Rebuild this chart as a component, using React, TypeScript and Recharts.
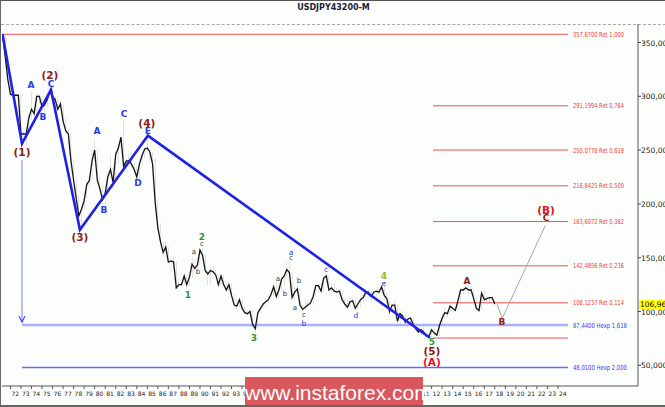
import React from "react";
import {
  ComposedChart,
  XAxis,
  YAxis,
  Bar,
  Line,
  Scatter,
  ReferenceLine,
  ReferenceDot,
} from "recharts";

// quarterly USDJPY bars, first one is 1971 Q2, one row per year
const FIRST_QUARTER = 1971.25;

const highs = [
  357.67, 357.5, 337,
  316, 304, 302, 302,
  302, 267, 266, 284,
  304, 290, 303, 302,
  301, 295, 300, 306,
  306, 300, 299, 296,
  293, 280, 270, 266,
  242, 225, 210, 198,
  205, 220, 225, 251,
  260, 251, 225, 218,
  212, 228, 246, 234,
  248, 255, 264, 278,
  242, 246, 248, 238,
  235, 238, 247, 252,
  263, 252, 248, 242,
  203, 182, 165, 165,
  160, 150, 151, 146,
  131, 128, 136, 134,
  133, 151, 149, 147,
  158, 160, 153, 139,
  142, 142, 139, 134,
  134, 134, 128, 126,
  126, 116, 111, 112,
  112, 105, 101, 101,
  101, 89, 100, 104,
  108, 111, 111, 116,
  124, 127, 123, 131,
  133, 147, 147, 136,
  124, 124, 121, 107,
  112, 110, 110, 115,
  126, 126, 126, 132,
  135, 134, 126, 126,
  122, 121, 121, 112,
  112, 114, 112, 112,
  108, 112, 115, 121,
  119, 119, 119, 119,
  122, 124, 124, 118,
  112, 108, 111, 106,
  100, 101, 98, 93,
  94, 95, 89, 85,
  86, 86, 81, 80,
  84, 83, 80, 87,
  97, 104, 101, 105,
  105, 104, 110, 122,
  122, 125.8, 125, 124,
  122, 113, 104, 119,
  119, 115, 115, 115,
  113.4,
];

const lows = [
  357.2, 336, 314,
  300, 300, 300, 299,
  256, 262, 254, 264,
  278, 275, 282, 293,
  283, 285, 290, 298,
  298, 296, 286, 288,
  275, 265, 262, 238,
  220, 201, 185, 176,
  195, 205, 215, 222,
  240, 220, 212, 203,
  199, 208, 228, 214,
  220, 237, 250, 233,
  230, 236, 235, 230,
  222, 222, 236, 243,
  249, 240, 236, 200,
  175, 163, 152, 154,
  145, 137, 140, 121,
  121, 123, 125, 121,
  124, 131, 137, 139,
  143, 150, 138, 124,
  125, 135, 133, 125,
  124, 124, 118, 119,
  114, 105, 100, 104,
  101, 98, 96, 96,
  86, 80, 84, 98,
  103, 104, 107, 110,
  115, 111, 112, 120,
  124, 131, 133, 111,
  110, 117, 104, 101,
  102, 104, 105, 106,
  114, 118, 117, 118,
  127, 119, 115, 118,
  115, 115, 109, 106,
  104, 104, 108, 102,
  102, 104, 108, 113,
  113, 109, 113, 114,
  115, 117, 111, 107,
  96, 99, 104, 87,
  87, 93, 88, 85,
  88, 87, 83, 80,
  76, 80, 76, 75.5,
  76, 78, 77, 77,
  87, 93, 94, 97,
  101, 101, 101, 105,
  116, 118, 116, 118,
  111, 99, 99.5, 101,
  110, 108, 107, 111,
  105.5,
];

const closes = [
  357.5, 337, 316,
  302, 301, 301, 301,
  265, 265, 265, 280,
  288, 284, 300, 300,
  290, 292, 297, 305,
  300, 297, 288, 293,
  277, 268, 265, 240,
  222, 205, 189, 195,
  203, 218, 222, 240,
  250, 222, 214, 204,
  210, 225, 232, 220,
  246, 252, 262, 235,
  240, 240, 237, 232,
  225, 237, 245, 251,
  252, 248, 237, 201,
  178, 165, 155, 160,
  146, 147, 146, 122,
  125, 125, 133, 125,
  132, 144, 140, 143,
  157, 152, 138, 135,
  138, 137, 134, 125,
  133, 125, 120, 125,
  115, 106, 105, 111,
  103, 99, 98, 100,
  88, 84, 99, 103,
  107, 109, 111, 116,
  123, 114, 120, 130,
  133, 139, 136, 113,
  118, 121, 106, 102,
  104, 106, 108, 114,
  124, 124, 119, 131,
  133, 120, 122, 119,
  118, 119, 111, 107,
  104, 109, 110, 103,
  107, 111, 113, 118,
  118, 114, 118, 119,
  118, 123, 115, 112,
  100, 106, 106, 91,
  98, 96, 90, 93,
  94, 88, 84, 81,
  83, 81, 77, 77,
  83, 80, 78, 87,
  94, 99, 98, 105,
  103, 101, 110, 120,
  120, 122, 120, 120,
  112, 103, 101, 117,
  111, 112, 113, 113,
  106.961,
];

const priceData = closes.map((c, i) => ({
  t: FIRST_QUARTER + i * 0.25,
  c,
  range: [lows[i], highs[i]],
}));

// Elliott wave (1)-(5)
const wavePoints = [
  { t: 1971.25, v: 357.67 },
  { t: 1973.1, v: 256 },
  { t: 1975.85, v: 306 },
  { t: 1978.6, v: 176 },
  { t: 1985.06, v: 263.5 },
  { t: 2011.84, v: 75.6 },
];

// forecast path B -> C
const forecastPoints = [
  { t: 2018.2, v: 107.5 },
  { t: 2018.7, v: 93.5 },
  { t: 2022.8, v: 180 },
];

const fibLevels = [357.67, 291.1994, 250.0778, 216.8425, 183.6072, 142.4856, 108.1237];
const fibRatios = ["1,000", "0,764", "0,618", "0,500", "0,382", "0,236", "0,114"];
const fibStart = [1971.2, 2012.13, 2012.13, 2012.13, 2012.13, 2012.13, 2012.13];
const fibBase = 75.4;

const expLevels = [87.44, 48.01];
const expRatios = ["1,618", "2,000"];

const levelEnd = 2024.95;

const yTicks = [50, 100, 150, 200, 250, 300, 350];
const yearTicks = Array.from({ length: 53 }, (_, i) => 1972 + i);

const lastPrice = 106.961;

const bigLabels = [
  { t: 1973.1, v: 248.2, text: "(1)" },
  { t: 1975.75, v: 319.8, text: "(2)" },
  { t: 1978.6, v: 169.2, text: "(3)" },
  { t: 1984.95, v: 275.2, text: "(4)" },
  { t: 2012.03, v: 63.3, text: "(5)" },
];

const redLabels = [
  { t: 2012.03, v: 53.5, text: "(A)" },
  { t: 2022.86, v: 194.3, text: "(B)" },
];

const maroonLetters = [
  { t: 2015.36, v: 128.3, text: "A" },
  { t: 2018.68, v: 90.2, text: "B" },
  { t: 2022.86, v: 187.2, text: "C" },
];

const blueLetters = [
  { t: 1973.95, v: 310.5, text: "A" },
  { t: 1975.09, v: 280.8, text: "B" },
  { t: 1975.85, v: 311.4, text: "C" },
  { t: 1980.22, v: 267.8, text: "A" },
  { t: 1980.88, v: 194.3, text: "B" },
  { t: 1982.78, v: 283.6, text: "C" },
  { t: 1984.11, v: 219.4, text: "D" },
  { t: 1985.06, v: 267.8, text: "E" },
];

const smallBlue = [
  { t: 1998.64, v: 155.3, text: "a" },
  { t: 1999.87, v: 89.2, text: "b" },
  { t: 2001.97, v: 139.5, text: "c" },
  { t: 2004.81, v: 96.7, text: "d" },
  { t: 2007.47, v: 126.5, text: "e" },
];

const smallDark = [
  { t: 1990.19, v: 162.7, text: "c" },
  { t: 1989.43, v: 155.3, text: "a" },
  { t: 1989.8, v: 136.7, text: "b" },
  { t: 1998.64, v: 149.7, text: "c" },
  { t: 1997.41, v: 130.2, text: "a" },
  { t: 1998.07, v: 116.2, text: "b" },
  { t: 1999.4, v: 128.3, text: "b" },
  { t: 1999.02, v: 103.2, text: "a" },
  { t: 1999.87, v: 96.7, text: "c" },
];

const greenDigits = [
  { t: 1988.86, v: 115.3, text: "1", color: "#2f8f6a" },
  { t: 1990.19, v: 169.2, text: "2", color: "#3b8f2f" },
  { t: 1995.13, v: 75.4, text: "3", color: "#3b8f2f" },
  { t: 2007.47, v: 133.0, text: "4", color: "#8fbf1f" },
  { t: 2012.03, v: 71.6, text: "5", color: "#2f9a3a" },
];

const FONT = "'DejaVu Sans', Verdana, sans-serif";

const makeText =
  (color: string, size: number, weight: string | number) => (p: any) =>
    (
      <text
        x={p.cx}
        y={p.cy}
        textAnchor="middle"
        dominantBaseline="central"
        fill={p.payload.color || color}
        fontSize={size}
        fontWeight={weight}
        fontFamily={FONT}
      >
        {p.payload.text}
      </text>
    );

const LevelLabel = (props: any) => {
  const vb = props.viewBox || {};
  return (
    <text
      x={(vb.x || 0) + (vb.width || 0) + 5}
      y={(vb.y || 0) + 2.5}
      fill={props.color}
      fontSize={7}
      fontFamily={FONT}
      textLength={props.len}
      lengthAdjust="spacingAndGlyphs"
    >
      {props.text}
    </text>
  );
};

const fmt = (v: number) => v.toFixed(4).replace(".", ",");

const YearTick = (props: any) => {
  const { x, y, payload } = props;
  const label = String(payload.value % 100).padStart(2, "0");
  return (
    <g>
      <line x1={x} x2={x} y1={y} y2={y + 3} stroke="#555" />
      <text x={x + 1} y={y + 10} fontSize={6} fill="#222" fontFamily={FONT}>
        {label}
      </text>
    </g>
  );
};

const PriceTick = (props: any) => {
  const { x, y, payload } = props;
  return (
    <g>
      <line x1={x} x2={x + 3} y1={y} y2={y} stroke="#444" />
      <text x={x + 3} y={y + 3} fontSize={7.5} fill="#222" fontFamily={FONT}>
        {`${payload.value},0000`}
      </text>
    </g>
  );
};

const PriceTag = (p: any) => (
  <g>
    <rect x={p.cx + 1} y={p.cy - 4} width={30} height={9} fill="#ffff00" />
    <text x={p.cx + 2} y={p.cy + 3} fontSize={7.5} fill="#111" fontFamily={FONT}>
      106,9610
    </text>
  </g>
);

const ArrowHead = (p: any) => (
  <polyline
    points={`${p.cx - 3},${p.cy - 6} ${p.cx},${p.cy} ${p.cx + 3},${p.cy - 6}`}
    fill="none"
    stroke="#4050e8"
    strokeWidth={1.2}
  />
);

export default function App() {
  return (
    <div
      style={{
        position: "absolute",
        left: 0,
        top: 0,
        width: 665,
        height: 407,
        background: "#fcfefc",
        overflow: "hidden",
        boxSizing: "border-box",
        borderTop: "1px solid #555",
        borderLeft: "1px solid #666",
        borderBottom: "2px solid #666",
      }}
    >
      <div
        style={{
          position: "absolute",
          left: 0,
          width: 665,
          top: 2,
          textAlign: "center",
          fontFamily: FONT,
          fontSize: 8,
          fontWeight: "bold",
          color: "#1c1c3c",
        }}
      >
        USDJPY43200-M
      </div>
      <div
        style={{
          position: "absolute",
          left: 0,
          width: 665,
          top: 23,
          borderTop: "1px dashed #a8a8a8",
        }}
      />
      <div style={{ position: "absolute", left: -1, top: -1 }}>
        <ComposedChart
          width={665}
          height={407}
          data={priceData}
          margin={{ top: 24, right: 0, bottom: 0, left: 2 }}
        >
          <XAxis
            type="number"
            dataKey="t"
            domain={[1971.2, 2031.6]}
            ticks={yearTicks}
            height={21}
            allowDataOverflow
            axisLine={{ stroke: "#555" }}
            tickLine={false}
            tickSize={0}
            tickMargin={0}
            tick={<YearTick />}
            interval={0}
          />
          <YAxis
            orientation="right"
            width={27}
            domain={[30.8, 367.2]}
            ticks={yTicks}
            allowDataOverflow
            axisLine={{ stroke: "#555" }}
            tickLine={false}
            tickSize={0}
            tickMargin={0}
            tick={<PriceTick />}
            interval={0}
          />

          {fibLevels.map((lv, i) => (
            <ReferenceLine
              key={`fib-${i}`}
              segment={[
                { x: fibStart[i], y: lv },
                { x: levelEnd, y: lv },
              ]}
              stroke="#f05050"
              strokeWidth={1}
              label={<LevelLabel text={`${fmt(lv)} Ret ${fibRatios[i]}`} color="#f03a3a" len={51} />}
            />
          ))}
          <ReferenceLine
            segment={[
              { x: 2012.13, y: fibBase },
              { x: levelEnd, y: fibBase },
            ]}
            stroke="#f05050"
            strokeWidth={1}
          />
          <ReferenceLine
            segment={[
              { x: 1973.1, y: expLevels[0] },
              { x: levelEnd, y: expLevels[0] },
            ]}
            stroke="#a9b0ff"
            strokeWidth={2.5}
            label={<LevelLabel text={`${fmt(expLevels[0])} Hexp ${expRatios[0]}`} color="#3535ff" len={54} />}
          />
          <ReferenceLine
            segment={[
              { x: 1973.1, y: expLevels[1] },
              { x: levelEnd, y: expLevels[1] },
            ]}
            stroke="#6a6aff"
            strokeWidth={1.5}
            label={<LevelLabel text={`${fmt(expLevels[1])} Hexp ${expRatios[1]}`} color="#3535ff" len={54} />}
          />
          <ReferenceLine
            segment={[
              { x: 1973.1, y: 240.8 },
              { x: 1973.1, y: 90.5 },
            ]}
            stroke="#a4aaf2"
            strokeWidth={1.5}
          />
          <ReferenceDot x={1973.1} y={90.2} r={0} shape={ArrowHead} ifOverflow="visible" />

          <Bar dataKey="range" barSize={1.6} fill="#6e6e6e" isAnimationActive={false} />
          <Line
            dataKey="c"
            stroke="#151515"
            strokeWidth={1.3}
            dot={false}
            isAnimationActive={false}
          />
          <Line
            data={wavePoints}
            dataKey="v"
            stroke="#2020e6"
            strokeWidth={2.6}
            dot={false}
            isAnimationActive={false}
          />
          <Line
            data={forecastPoints}
            dataKey="v"
            stroke="#a6a6a6"
            strokeWidth={1}
            dot={false}
            isAnimationActive={false}
          />

          <Scatter data={bigLabels} dataKey="v" shape={makeText("#8b2020", 10.5, "bold")} isAnimationActive={false} />
          <Scatter data={redLabels} dataKey="v" shape={makeText("#e01020", 10.5, "bold")} isAnimationActive={false} />
          <Scatter data={maroonLetters} dataKey="v" shape={makeText("#8b2020", 9, "bold")} isAnimationActive={false} />
          <Scatter data={blueLetters} dataKey="v" shape={makeText("#2a3ae6", 9, "bold")} isAnimationActive={false} />
          <Scatter data={smallBlue} dataKey="v" shape={makeText("#2a3ae6", 7.5, "normal")} isAnimationActive={false} />
          <Scatter data={smallDark} dataKey="v" shape={makeText("#333", 7, "normal")} isAnimationActive={false} />
          <Scatter data={greenDigits} dataKey="v" shape={makeText("#3b8f2f", 9, "bold")} isAnimationActive={false} />

          <ReferenceDot x={2031.6} y={lastPrice} r={0} shape={PriceTag} ifOverflow="visible" />
        </ComposedChart>
      </div>
      <div
        style={{
          position: "absolute",
          left: 244,
          top: 376,
          width: 178,
          height: 31,
          background: "#d9575d",
          color: "#fff",
          fontFamily: "'Liberation Sans', Arial, sans-serif",
          fontSize: 21,
          lineHeight: "31px",
          textAlign: "center",
        }}
      >
        www.instaforex.com
      </div>
    </div>
  );
}
